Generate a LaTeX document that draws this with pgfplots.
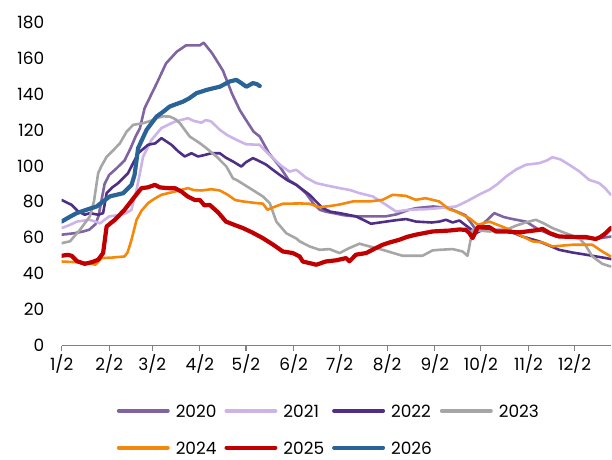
\documentclass[border=0pt]{standalone}
\usepackage{fontspec}
\setmainfont{Poppins}
\usepackage{pgfplots}
\pgfplotsset{compat=1.18}
\definecolor{c2020}{HTML}{8064A2}
\definecolor{c2021}{HTML}{CDB4E8}
\definecolor{c2022}{HTML}{4F2F85}
\definecolor{c2023}{HTML}{A6A6A6}
\definecolor{c2024}{HTML}{F5870A}
\definecolor{c2025}{HTML}{C00000}
\definecolor{c2026}{HTML}{2A6496}
\begin{document}
\begin{tikzpicture}
\path (-61.7bp,-114bp) rectangle (550.3bp,346bp);
\begin{axis}[
 scale only axis, width=550.3bp, height=324bp,
 xmin=2, xmax=360, ymin=0, ymax=180,
 axis x line*=bottom, axis y line*=left,
 x axis line style={-, draw=gray, line width=1.2bp},
 y axis line style={draw=none},
 xtick={2,33,61,92,122,153,183,214,245,275,306,336},
 xticklabels={1/2,2/2,3/2,4/2,5/2,6/2,7/2,8/2,9/2,10/2,11/2,12/2},
 ytick={0,20,...,180},
 tick align=outside,
 major tick length=5bp,
 x tick style={draw=gray, line width=1.2bp},
 y tick style={draw=none},
 ticklabel style={font=\fontsize{17}{17}\selectfont},
 yticklabel style={xshift=-9bp},
 /pgf/number format/assume math mode=true,
 clip=true,
 every axis plot/.append style={line join=round, line cap=round, no markers},
 legend columns=4,
 legend style={at={(axis description cs:0.1,-0.258)}, anchor=west, draw=none, inner sep=0pt,
   font=\fontsize{17}{17}\selectfont,
   nodes={inner sep=0pt, anchor=west, text height=13bp, text depth=0bp},
   row sep=24bp,
   /tikz/every odd column/.append style={column sep=6bp},
   /tikz/every even column/.append style={column sep=8bp}},
 legend image code/.code={\draw[#1, line width=4bp, line cap=round] (2bp,0bp) -- (51bp,0bp);},
]
\addplot[c2020, line width=2.6bp] coordinates {
(2,61.7)(10,62.5)(16,63.5)(20,64.5)(24,67.5)(26,72)(28,81)(30,90)(33,95)(37,98)(43,103)(47,110)(50,116)(53,121)(56,132)(60,139)(64,146)(70,157)(77,163.5)(83,167)(90,167)(92,167)(94.5,168.5)(100,162.6)(107,153)(113,140)(118,131)(122,125.6)(127,119)(131,116.3)(137,107)(144,99.6)(150,92)(155,89.4)(161,84.8)(166,79)(170,75.6)(174,74.5)(179,73.7)(186,72.5)(194,71.8)(200,71.9)(213,71.9)(220,73)(228,75.5)(233,76.5)(244,77.4)(254,76.5)(265,72.5)(268,69)(271.8,64.4)(278,69)(283.7,73.7)(290,71.5)(295.6,70.4)(304.3,69)(313,64.4)(323.8,60.7)(339,59.8)(350,59.5)(360,60.7)};
\addlegendentry{2020}
\addplot[c2021, line width=2.6bp] coordinates {
(2,65.4)(7,67)(12,69)(20,70)(24,69)(27,68)(30,70)(33,71.9)(41,72.8)(44,73.7)(47.5,75.6)(50.8,86.7)(53,96)(55,105)(60.5,114.4)(67,121)(75.7,124.6)(84.3,126.5)(88,125)(93,124)(96,125.5)(99.5,124.6)(105,120)(110,117)(116,114.4)(122,112)(131,111.7)(135,108)(139.6,104.3)(145,100)(150.4,96.8)(154.8,97.8)(161,93.5)(167.8,90.4)(175,89)(183,87.6)(190,86.5)(196,84.8)(204.6,83)(213.3,78.3)(219.8,74.6)(228.4,75.6)(239.3,75.9)(248,76.5)(258.8,77.4)(264,79.5)(269.6,82)(275,84.5)(280.5,86.7)(286,90)(291.3,94)(298,98)(304.3,100.6)(313,101.5)(318,103)(321.6,104.8)(327,103.5)(332.5,100.6)(339,97)(345.5,92.2)(352,90.4)(356,87.5)(359.6,83.9)};
\addlegendentry{2021}
\addplot[c2022, line width=2.6bp] coordinates {
(2,81)(8.5,78.3)(12.8,74.6)(17,72.8)(20.4,73.7)(25.8,72.8)(29,73.7)(31.3,84.8)(35,88)(38.8,90.4)(45.3,96)(51.8,107)(58.3,111.7)(63,112.5)(67,115.4)(73.5,111.7)(78,108)(82.2,105.2)(86.5,107)(90.8,105.2)(95,106)(99.5,107)(105,107)(109,104.5)(113.6,102.4)(119,99.6)(122,102)(126.6,104.3)(131,102.5)(135.3,100.6)(140,97.5)(144,95)(149,92)(154.8,89.4)(157,88)(163.4,83.9)(165.6,82)(172,76.5)(177,74.5)(183,73.7)(193.7,71.9)(203.5,67.8)(213.3,69)(220,69.8)(226.3,70.4)(232.8,69)(243,68.5)(248,69)(252.3,70)(256.6,68.5)(261,69.6)(267.5,65.4)(271.8,62.6)(276.2,64.4)(291.3,64.4)(302,60.7)(313,58)(326,53.3)(334.6,51.8)(343.4,50.6)(356.4,48.7)(360,48.1)};
\addlegendentry{2022}
\addplot[c2023, line width=2.6bp] coordinates {
(2,57)(7.4,58)(13.9,64.4)(20.4,71.9)(23,80)(25.8,96)(28,100)(31.3,105)(36,109)(40,112.6)(44.3,119)(48.6,122.8)(55,123.7)(60,125)(63.8,126.5)(68,127.5)(72.4,127.4)(76,126)(79,123.7)(85.4,116.3)(92,112.6)(96,110)(102.8,105.2)(109.3,99.6)(113.6,93)(115.8,92.2)(124.5,87.6)(133,83)(137.5,79.3)(141.8,69)(148.3,62.5)(155,59.5)(157,58)(163.4,55.2)(170,53.3)(176.4,53.7)(183,51.5)(189.4,54.3)(196,56.7)(202.4,55.2)(211,53.3)(218,51.5)(224,50)(237,50)(243.6,53)(248,53.3)(256.6,53.7)(263,52.4)(266.3,50)(269.6,64.4)(280.5,63.5)(291.3,64.4)(297.8,66.7)(304,68.5)(310.8,70)(316,68)(321.6,65.4)(330,62.6)(339,59.8)(343,56)(347.6,49.6)(354.1,45.5)(359.6,44)};
\addlegendentry{2023}
\addplot[c2024, line width=2.6bp] coordinates {
(2,46.8)(10,46.5)(19.3,46)(24,45)(28,48.7)(35,49)(43,49.6)(45,52)(47.5,58.9)(50.8,70)(54,75)(58.3,79.3)(63,82)(67,83.9)(75.7,85.7)(84.3,87.6)(88,86.5)(93,86.3)(99.5,87)(105,86.3)(110,84)(115,81)(120,80.2)(128.8,79.3)(133,79)(136,75.6)(140,77)(146,78.9)(157,79.1)(163.4,78.9)(170,77)(178,77.8)(183,78.5)(191.7,80.2)(202.5,80.2)(211,81.1)(217.5,83.9)(226.2,83.3)(232.6,81.1)(239,82)(247.8,80.2)(254.3,75.9)(258.8,74.6)(267.5,70.9)(273,67.2)(280.5,69)(291.3,65.4)(300,61.7)(308.6,58)(315,57.5)(321.6,55.2)(334.6,56.1)(347.6,56.1)(354,52.4)(359.6,49.6)};
\addlegendentry{2024}
\addplot[c2025, line width=4.2bp] coordinates {
(2,50)(6,50.5)(8.5,50)(12,47)(17,45.5)(22,46.5)(25.8,47.8)(29,51.5)(31.3,66.3)(36.7,70)(43,75.6)(49.7,83)(54,87.6)(58,88)(62.7,89.4)(66,88)(71.3,87.6)(76,87.5)(80,85.7)(84,83)(88.7,81)(92,81)(95,78)(98.4,78.3)(104,74)(109,69)(115,67)(120,65.4)(126,63)(133,59.8)(140,56)(146,52.4)(152.6,51.5)(157,49.6)(159,46.8)(163,46)(167.8,45)(174,46.8)(181,47.5)(187.2,48.7)(189.4,46.9)(193.7,50.6)(200.3,51.5)(206,54)(211,56.1)(216,57.5)(221.9,58.9)(227,60.5)(232.6,61.7)(243.5,63.5)(254.3,64)(261,64.6)(265.3,64.4)(267.5,62.6)(269.6,59.8)(273,65.9)(280.5,65.9)(284.8,63.5)(291.3,63.5)(300,63)(313,64.4)(315,65)(320,62.5)(326,60.7)(335,60.5)(343.4,60.4)(349.8,59.3)(353,60.5)(356.4,62.6)(359.6,65.4)};
\addlegendentry{2025}
\addplot[c2026, line width=4.2bp] coordinates {
(2,69)(7,71.5)(11.8,73.7)(19.3,75.9)(24.8,77.4)(29,80.2)(33.4,83)(42.1,84.8)(47.5,89.4)(49.5,95)(51.8,109.8)(57.3,120)(63.8,127.4)(68,130)(72.4,133)(81,135.7)(85,137.5)(89.8,140.4)(96.3,142.2)(100,143)(105,144)(111.4,146.9)(115.8,147.8)(119,146)(122.3,144)(126.6,146)(129,145.5)(131,144.4)};
\addlegendentry{2026}
\end{axis}
\end{tikzpicture}
\end{document}
